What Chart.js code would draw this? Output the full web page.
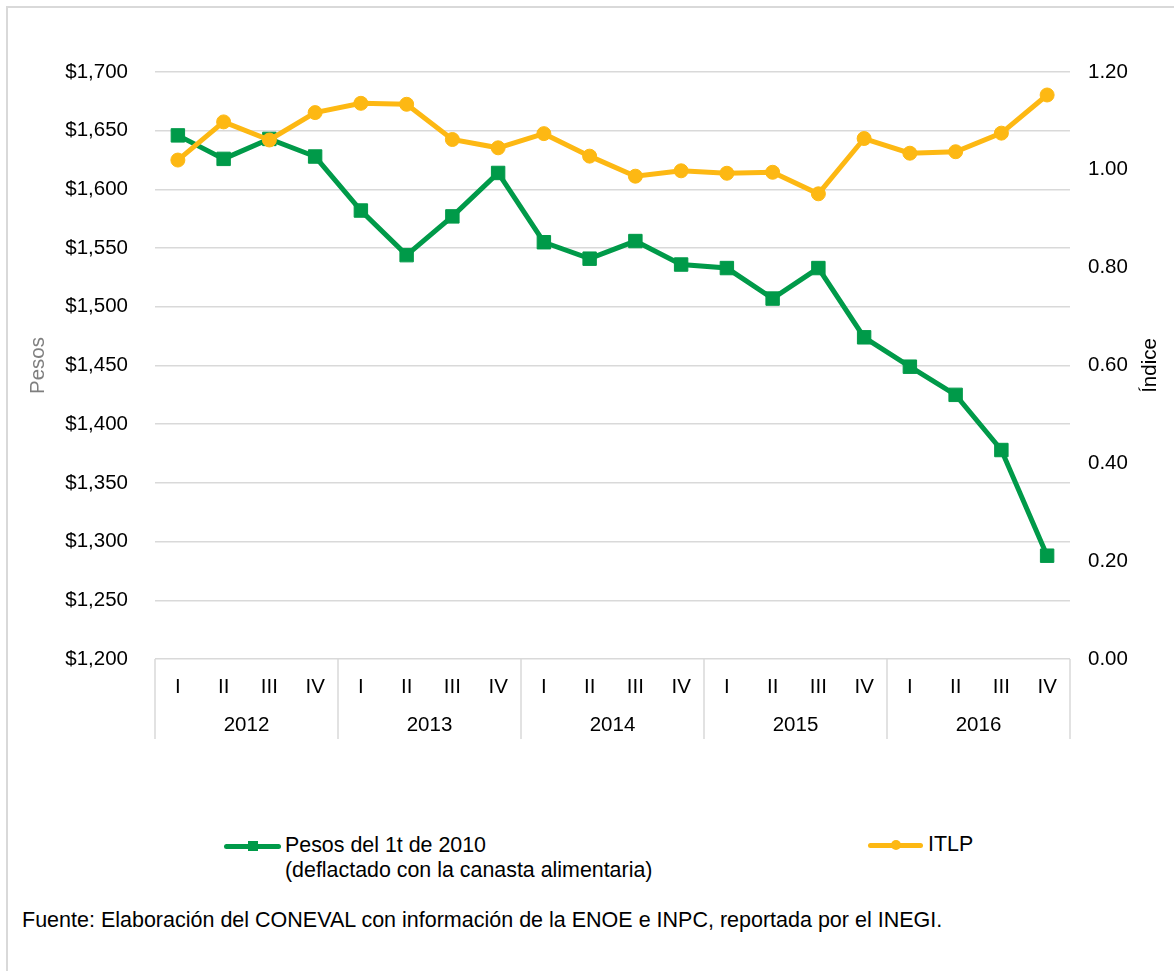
<!DOCTYPE html>
<html>
<head>
<meta charset="utf-8">
<script src="https://cdn.jsdelivr.net/npm/chart.js@4/dist/chart.umd.min.js"></script>
<style>
  html, body { margin: 0; padding: 0; background: #fff; }
  body { width: 1174px; height: 971px; position: relative; overflow: hidden; font-family: "Liberation Sans", Arial, sans-serif; }
  #frame { position: absolute; left: 6px; top: 6px; width: 1200px; height: 1000px; border: 2px solid #d9d9d9; box-sizing: border-box; }
  #wrap { position: absolute; left: 0; top: 0; width: 1174px; height: 760px; }
  .leg { position: absolute; font-size: 21.4px; line-height: 25px; color: #000; white-space: nowrap; }
  .legline { position: absolute; height: 5px; border-radius: 3px; }
  .legmark { position: absolute; }
  #foot { position: absolute; left: 22px; top: 908px; font-size: 21.5px; line-height: 25px; color: #000; white-space: nowrap; }
</style>
</head>
<body>
<div id="frame"></div>
<div id="wrap"><canvas id="c"></canvas></div>

<div class="legline" style="left:224px; top:843.5px; width:57px; background:#009A49;"></div>
<div class="legmark" style="left:247.5px; top:841px; width:10px; height:10px; background:#009A49;"></div>
<div class="leg" style="left:285px; top:832.5px;">Pesos del 1t de 2010<br>(deflactado con la canasta alimentaria)</div>

<div class="legline" style="left:868px; top:842.5px; width:55px; background:#FDB813;"></div>
<div class="legmark" style="left:890.5px; top:840px; width:10px; height:10px; border-radius:50%; background:#FDB813;"></div>
<div class="leg" style="left:928px; top:832px;">ITLP</div>

<div id="foot">Fuente: Elaboración del CONEVAL con información de la ENOE e INPC, reportada por el INEGI.</div>

<script>
const quarters = ['I','II','III','IV','I','II','III','IV','I','II','III','IV','I','II','III','IV','I','II','III','IV'];
const years = ['2012','2013','2014','2015','2016'];
const pesos = [1646, 1626, 1643, 1628, 1582, 1544, 1577, 1614, 1555, 1541, 1556, 1536, 1533, 1507, 1533, 1474, 1449, 1425, 1378, 1288];
const itlp = [1.020, 1.098, 1.061, 1.117, 1.136, 1.134, 1.062, 1.045, 1.074, 1.028, 0.987, 0.998, 0.993, 0.995, 0.951, 1.064, 1.034, 1.037, 1.075, 1.153];
const pesosTicks = { min: 1200, max: 1700, step: 50 };
const indexTicks = { min: 0, max: 1.2, step: 0.2 };
const seriesNames = ['Pesos del 1t de 2010 (deflactado con la canasta alimentaria)', 'ITLP'];
const axisTitles = ['Pesos', 'Índice'];

const GREEN = '#009A49';
const ORANGE = '#FDB813';
const GRID = '#d9d9d9';
const FONT = { family: '"Liberation Sans", Arial, sans-serif', size: 20.5 };

const groupPlugin = {
  id: 'groups',
  afterDraw(chart) {
    const ctx = chart.ctx;
    const x = chart.scales.x, x2 = chart.scales.x2, y2 = chart.scales.y2;
    const n = quarters.length;
    const half = (x.getPixelForValue(1) - x.getPixelForValue(0)) / 2;
    ctx.save();
    ctx.strokeStyle = GRID;
    ctx.lineWidth = 1.5;
    for (let i = 0; i <= n; i += 4) {
      const px = i < n ? x.getPixelForValue(i) - half : x.getPixelForValue(n - 1) + half;
      ctx.beginPath();
      ctx.moveTo(px, x.top);
      ctx.lineTo(px, x2.bottom);
      ctx.stroke();
    }
    // right axis title, rotated like the left one
    ctx.fillStyle = '#000';
    ctx.font = `${FONT.size}px ${FONT.family}`;
    ctx.textAlign = 'center';
    ctx.textBaseline = 'middle';
    ctx.translate(y2.right - 24, (chart.chartArea.top + chart.chartArea.bottom) / 2);
    ctx.rotate(-Math.PI / 2);
    ctx.fillText(axisTitles[1], 0, 0);
    ctx.restore();
  }
};

new Chart(document.getElementById('c'), {
  type: 'line',
  data: {
    labels: quarters,
    datasets: [
      {
        label: seriesNames[0], data: pesos, yAxisID: 'y', order: 1,
        borderColor: GREEN, backgroundColor: GREEN, borderWidth: 5,
        pointStyle: 'rect', pointRadius: 9.5, pointBorderWidth: 1,
        pointBackgroundColor: GREEN, pointBorderColor: GREEN, tension: 0
      },
      {
        label: seriesNames[1], data: itlp, yAxisID: 'y2', order: 0,
        borderColor: ORANGE, backgroundColor: ORANGE, borderWidth: 5,
        pointStyle: 'circle', pointRadius: 7, pointBorderWidth: 1,
        pointBackgroundColor: ORANGE, pointBorderColor: ORANGE, tension: 0
      }
    ]
  },
  options: {
    responsive: true,
    maintainAspectRatio: false,
    animation: false,
    layout: { padding: { top: 72, bottom: 21, left: 0, right: 0 } },
    plugins: { legend: { display: false }, tooltip: { enabled: false } },
    scales: {
      x: {
        type: 'category', labels: quarters, position: 'bottom', offset: true, weight: 0,
        grid: { display: false }, border: { display: false },
        ticks: { color: '#000', font: FONT, padding: 8, maxRotation: 0, autoSkip: false },
        afterFit: s => { s.height = 44; }
      },
      x2: {
        type: 'category', labels: years, position: 'bottom', offset: true, weight: 1,
        grid: { display: false }, border: { display: false },
        ticks: { color: '#000', font: FONT, padding: 2, maxRotation: 0, autoSkip: false },
        afterFit: s => { s.height = 36; }
      },
      y: {
        position: 'left', min: pesosTicks.min, max: pesosTicks.max,
        ticks: {
          stepSize: pesosTicks.step, color: '#000', font: FONT, padding: 27,
          callback: v => '$' + Number(v).toLocaleString('en-US')
        },
        grid: { color: GRID, lineWidth: 1.5, drawTicks: false },
        border: { display: false },
        title: { display: true, text: axisTitles[0], color: '#7f7f7f', font: FONT, padding: { top: 26, bottom: 0 } },
        afterFit: s => { s.width = 155; }
      },
      y2: {
        position: 'right', min: indexTicks.min, max: indexTicks.max,
        ticks: {
          stepSize: indexTicks.step, color: '#000', font: FONT, padding: 18,
          callback: v => Number(v).toFixed(2)
        },
        grid: { display: false, drawTicks: false },
        border: { display: false },
        afterFit: s => { s.width = 104; }
      }
    }
  },
  plugins: [groupPlugin]
});
</script>
</body>
</html>
